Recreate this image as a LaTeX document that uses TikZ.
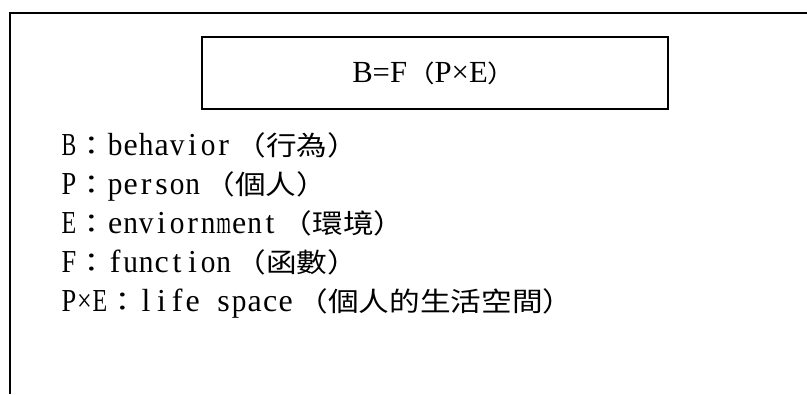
\documentclass[tikz,border=0pt]{standalone}
\usepackage{fontspec}
\usepackage{graphicx}
\setmainfont{Liberation Serif}
\newfontfamily\cjkfam[FakeStretch=1.15]{Noto Sans CJK TC}
\newfontfamily\latfam{Liberation Serif}
\newsavebox\glyphbox
\newcommand\C[1]{{\cjkfam\fontsize{20}{22}\selectfont #1}}
\newcommand\cellone[1]{\sbox\glyphbox{#1}%
  \ifdim\wd\glyphbox>11pt
    \makebox[11.625pt][c]{\resizebox{11pt}{\ht\glyphbox}{\usebox\glyphbox}}%
  \else
    \makebox[11.625pt][c]{\usebox\glyphbox}%
  \fi}
\def\cellloop#1{\ifx#1\relax\else\cellone{#1}\expandafter\cellloop\fi}
\newcommand\cells[1]{{\latfam\fontsize{24}{26}\selectfont\cellloop#1\relax}}
\newcommand\gap{\hspace{3pt}}
\begin{document}
\begin{tikzpicture}[x=0.75pt,y=-0.75pt,
  frame/.style={line width=1.5pt},
  item/.style={anchor=base west,inner sep=0pt}]
\useasboundingbox (0,0) rectangle (807,394);
\coordinate (tl) at (9.5,13);
\coordinate (tr) at (807,13);
\coordinate (bl) at (9.5,394);
\draw[frame] (tr) -- (tl) -- (bl);
\node[draw,line width=1.4pt,minimum width=349.5pt,minimum height=54pt,inner sep=0pt] (box) at (434.9,72.9) {};
\node[anchor=base west,inner sep=0pt,font=\fontsize{23}{25}\selectfont] (formula) at (352,82)
  {B=F{\cjkfam\fontsize{18}{20}\selectfont （}P×E{\cjkfam\fontsize{18}{20}\selectfont ）}};
\node[item] (b) at (61,155) {\cells{B}\C{：}\cells{behavior}\gap\C{（行為）}};
\node[item] (p) at (61,194.5) {\cells{P}\C{：}\cells{person}\gap\C{（個人）}};
\node[item] (e) at (61,233.5) {\cells{E}\C{：}\cells{enviornment}\gap\C{（環境）}};
\node[item] (f) at (61,272.5) {\cells{F}\C{：}\cells{function}\gap\C{（函數）}};
\node[item] (pe) at (61,311.5) {\cells{P×E}\C{：}\cells{life~space}\gap\C{（個人的生活空間）}};
\end{tikzpicture}
\end{document}
